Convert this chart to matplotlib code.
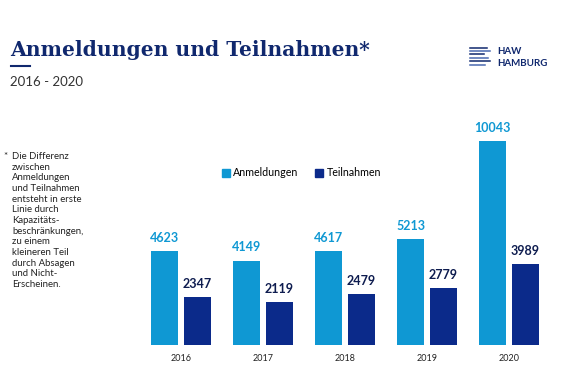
import numpy as np
import matplotlib
matplotlib.use("Agg")
from matplotlib import pyplot as plt
from matplotlib.lines import Line2D

years = ["2016", "2017", "2018", "2019", "2020"]
anmeldungen = [4623, 4149, 4617, 5213, 10043]
teilnahmen = [2347, 2119, 2479, 2779, 3989]

light = "#0f98d3"
dark = "#0b2a8a"
navy_text = "#0e1c4f"
title_col = "#10286e"

W, H = 570, 380
fig = plt.figure(figsize=(W / 100, H / 100), dpi=100)
fig.patch.set_facecolor("white")

# axes placed in pixel terms
left, right, bottom, top = 140, 550, 380 - 344.5, 380 - 122
ax = fig.add_axes([left / W, bottom / H, (right - left) / W, (top - bottom) / H])
x = np.arange(len(years))
w = 0.33
ax.bar(x - 0.2, anmeldungen, w, color=light, label="Anmeldungen")
ax.bar(x + 0.2, teilnahmen, w, color=dark, label="Teilnahmen")
ax.set_xlim(-0.5, 4.5)
ax.set_ylim(0, 11000)
for i in range(len(years)):
    ax.text(x[i] - 0.2, anmeldungen[i] + 350, str(anmeldungen[i]), ha="center", va="bottom",
            fontsize=9, fontweight="bold", color=light, family="Lato")
    ax.text(x[i] + 0.2, teilnahmen[i] + 350, str(teilnahmen[i]), ha="center", va="bottom",
            fontsize=9, fontweight="bold", color=navy_text, family="Lato")
ax.set_xticks(x)
ax.set_xticklabels(years, fontsize=6.5, family="Lato", color="#222222")
ax.tick_params(axis="x", length=0, pad=7)
ax.set_yticks([])
for s in ax.spines.values():
    s.set_visible(False)

handles = [Line2D([], [], marker="s", linestyle="", color=light, markersize=6),
           Line2D([], [], marker="s", linestyle="", color=dark, markersize=6)]
fig.legend(handles, ["Anmeldungen", "Teilnahmen"], loc="center left",
           bbox_to_anchor=(212 / W, 1 - 173 / H), ncol=2, frameon=False,
           prop={"family": "Lato", "size": 7.7}, handletextpad=0.3, columnspacing=1.5,
           handlelength=0.8)

# title block
fig.text(10 / W, 1 - 50 / H, "Anmeldungen und Teilnahmen*", fontsize=14.6, fontweight="bold",
         family="DejaVu Serif", color=title_col, va="center")
fig.add_artist(Line2D([11 / W, 30 / W], [1 - 66 / H, 1 - 66 / H], color=title_col, linewidth=1.5))
fig.text(10 / W, 1 - 82 / H, "2016 - 2020", fontsize=9.5, family="Lato", color="#333333", va="center")

# footnote
note = ("Die Differenz\nzwischen\nAnmeldungen\nund Teilnahmen\nentsteht in erste\nLinie durch\n"
        "Kapazitäts-\nbeschränkungen,\nzu einem\nkleineren Teil\ndurch Absagen\nund Nicht-\nErscheinen.")
fig.text(3 / W, 1 - 152 / H, "*", fontsize=7, family="Lato", color="#222222", va="top")
fig.text(12 / W, 1 - 152 / H, note, fontsize=6.9, family="Lato", color="#222222", va="top",
         linespacing=1.24)

# logo
logo_lens = [17, 20, 14, 18, 20, 15]
for k, ln in enumerate(logo_lens):
    yy = 1 - (47.5 + k * 3.4) / H
    fig.add_artist(Line2D([470 / W, (470 + ln) / W], [yy, yy], color=title_col if k % 2 == 0 else "#4a6ab0",
                          linewidth=1.1))
fig.text(497 / W, 1 - 52 / H, "HAW", fontsize=7, fontweight="bold", family="Lato", color=title_col, va="center")
fig.text(497 / W, 1 - 63 / H, "HAMBURG", fontsize=7, fontweight="bold", family="Lato", color=title_col, va="center")

fig.savefig("out.png", dpi=100)
